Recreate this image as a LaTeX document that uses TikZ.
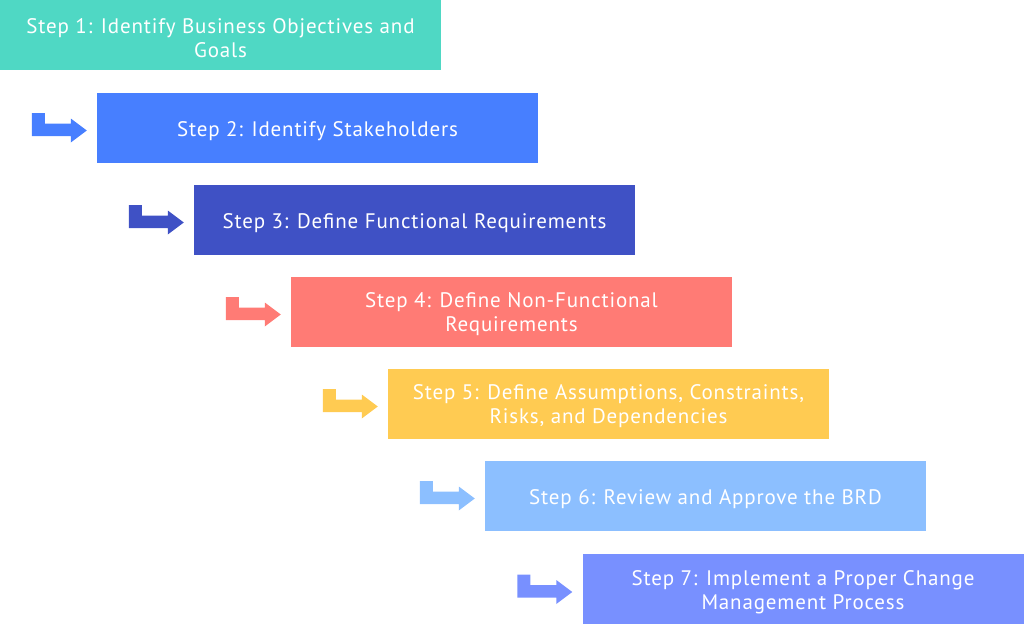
\documentclass[tikz,border=0pt]{standalone}
\usepackage{fontspec}
\setmainfont{PT Sans}[LetterSpace=4]
\usetikzlibrary{calc}
\definecolor{c1}{HTML}{4FD8C4}
\definecolor{c2}{HTML}{477FFF}
\definecolor{c3}{HTML}{3F51C5}
\definecolor{c4}{HTML}{FF7B75}
\definecolor{c5}{HTML}{FFCB52}
\definecolor{c6}{HTML}{8CBFFF}
\definecolor{c7}{HTML}{7890FF}
\tikzset{stepbox/.style={minimum width=441pt,minimum height=70pt,inner sep=0pt},
  steptext/.style={align=center,text=white,inner sep=0pt,font=\fontsize{21}{24}\selectfont}}
\begin{document}
\begin{tikzpicture}[x=1pt,y=-1pt]
\useasboundingbox (0,0) rectangle (1024,624);
\node[stepbox,fill=c1] (s1) at (220.5, 35) {};
\node[stepbox,fill=c2] (s2) at (317.5, 127.5) {};
\node[stepbox,fill=c3] (s3) at (414.5, 219.5) {};
\node[stepbox,fill=c4] (s4) at (511.5, 311.5) {};
\node[stepbox,fill=c5] (s5) at (608.5, 403.5) {};
\node[stepbox,fill=c6] (s6) at (705.5, 495.5) {};
\node[stepbox,fill=c7] (s7) at (803, 589) {};
\node[steptext] (t1) at ([yshift=-3pt]s1) {Step 1: Identify Business Objectives and\\Goals};
\node[steptext] (t2) at ([yshift=-3.5pt]s2) {Step 2: Identify Stakeholders};
\node[steptext] (t3) at ([yshift=-3.5pt]s3) {Step 3: Define Functional Requirements};
\node[steptext] (t4) at ([yshift=-3pt]s4) {Step 4: Define Non-Functional\\Requirements};
\node[steptext] (t5) at ([yshift=-3pt]s5) {Step 5: Define Assumptions, Constraints,\\Risks, and Dependencies};
\node[steptext] (t6) at ([yshift=-3.5pt]s6) {Step 6: Review and Approve the BRD};
\node[steptext] (t7) at ([yshift=-3pt]s7) {Step 7: Implement a Proper Change\\Management Process};
\foreach \i in {2,...,7}
  \fill[c\i] ($(s\i.west)+(-65,-14.5)$) -- ++(13,0) -- ++(0,10.5) -- ++(26,0) -- ++(0,-5)
    -- ++(16,12) -- ++(-16,12) -- ++(0,-6.5) -- ++(-39,0) -- cycle;
\end{tikzpicture}
\end{document}
